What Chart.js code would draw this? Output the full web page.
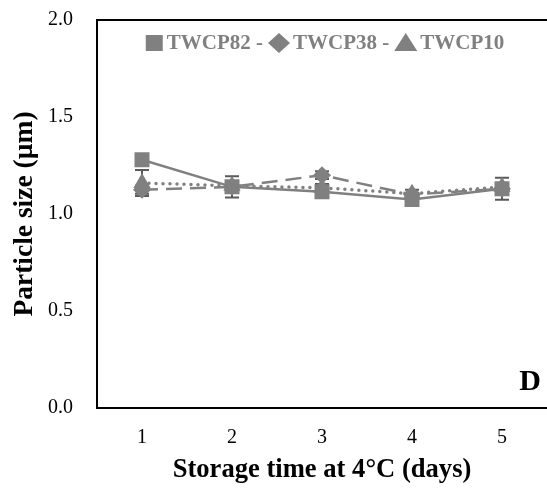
<!DOCTYPE html>
<html>
<head>
<meta charset="utf-8">
<script src="https://cdn.jsdelivr.net/npm/chart.js@4/dist/chart.umd.min.js"></script>
<style>
html,body{margin:0;padding:0;background:#fff;}
#wrap{width:547px;height:488px;position:relative;}
</style>
</head>
<body>
<div id="wrap"><canvas id="c" width="547" height="488"></canvas></div>
<script>
const days = ['1', '2', '3', '4', '5'];
const twcp82 = [1.28, 1.14, 1.115, 1.075, 1.13];
const twcp38 = [1.125, 1.14, 1.20, 1.10, 1.13];
const twcp10 = [1.16, 1.145, 1.135, 1.105, 1.14];
const err82 = [0.02, 0.055, 0.02, 0.02, 0.057];
const err38 = [0.02, 0.02, 0.02, 0.01, 0.02];
const err10 = [0.067, 0.02, 0.02, 0.02, 0.02];
const yTicks = [0, 0.5, 1.0, 1.5, 2.0];
const legendLabels = ['TWCP82 -', 'TWCP38 -', 'TWCP10'];
const panelLetter = 'D';

const GREY = '#808080';
const SERIF = '"Liberation Serif", "Times New Roman", serif';

const errorBars = {
  id: 'errorBars',
  beforeDatasetsDraw(chart) {
    const ctx = chart.ctx;
    const y = chart.scales.y;
    ctx.save();
    ctx.strokeStyle = '#5a5a5a';
    ctx.lineWidth = 2;
    chart.data.datasets.forEach((ds, i) => {
      const meta = chart.getDatasetMeta(i);
      meta.data.forEach((pt, j) => {
        const e = ds.errors[j];
        const v = ds.data[j];
        const yt = y.getPixelForValue(v + e);
        const yb = y.getPixelForValue(v - e);
        const x = pt.x;
        ctx.beginPath();
        ctx.moveTo(x, yt); ctx.lineTo(x, yb);
        ctx.moveTo(x - 7, yt); ctx.lineTo(x + 7, yt);
        ctx.moveTo(x - 7, yb); ctx.lineTo(x + 7, yb);
        ctx.stroke();
      });
    });
    ctx.restore();
  }
};

const frameAndLegend = {
  id: 'frameAndLegend',
  afterDraw(chart) {
    const ctx = chart.ctx;
    const a = chart.chartArea;
    ctx.save();
    ctx.strokeStyle = '#000';
    ctx.lineWidth = 2;
    ctx.beginPath();
    ctx.moveTo(a.left - 1, a.top);
    ctx.lineTo(chart.width, a.top);
    ctx.stroke();

    ctx.font = 'bold 21px ' + SERIF;
    ctx.fillStyle = GREY;
    ctx.textBaseline = 'middle';
    ctx.textAlign = 'left';
    const markerW = [18, 22, 23];
    const gap = 3;
    let total = 0;
    legendLabels.forEach((t, i) => {
      total += markerW[i] + gap + ctx.measureText(t).width + (i < legendLabels.length - 1 ? 5 : 0);
    });
    let x = (a.left + a.right) / 2 - total / 2 + 3;
    const cy = a.top + 23;
    legendLabels.forEach((t, i) => {
      const w = markerW[i];
      ctx.beginPath();
      if (i === 0) {
        ctx.rect(x, cy - 8, 17, 16);
      } else if (i === 1) {
        ctx.moveTo(x + w / 2, cy - 10);
        ctx.lineTo(x + w, cy);
        ctx.lineTo(x + w / 2, cy + 10);
        ctx.lineTo(x, cy);
        ctx.closePath();
      } else {
        ctx.moveTo(x + w / 2, cy - 10);
        ctx.lineTo(x + w, cy + 8);
        ctx.lineTo(x, cy + 8);
        ctx.closePath();
      }
      ctx.fill();
      x += w + gap;
      ctx.fillText(t, x, cy + 1);
      x += ctx.measureText(t).width + 5;
    });

    ctx.fillStyle = '#000';
    ctx.font = 'bold 30px ' + SERIF;
    ctx.textAlign = 'right';
    ctx.fillText(panelLetter, a.right - 6, a.bottom - 26);
    ctx.restore();
  }
};

new Chart(document.getElementById('c'), {
  type: 'line',
  data: {
    labels: days,
    datasets: [
      {
        label: 'TWCP82', data: twcp82, errors: err82,
        borderColor: GREY, backgroundColor: GREY, borderWidth: 2.5,
        pointStyle: 'rect', pointRadius: 10.6, pointBorderWidth: 0,
        pointBackgroundColor: GREY, tension: 0
      },
      {
        label: 'TWCP38', data: twcp38, errors: err38,
        borderColor: GREY, backgroundColor: GREY, borderWidth: 2.5,
        borderDash: [16, 8],
        pointStyle: 'rectRot', pointRadius: 9, pointBorderWidth: 0,
        pointBackgroundColor: GREY, tension: 0
      },
      {
        label: 'TWCP10', data: twcp10, errors: err10,
        borderColor: GREY, backgroundColor: GREY, borderWidth: 3.5,
        borderDash: [0, 7], borderCapStyle: 'round',
        pointStyle: 'triangle', pointRadius: 10, pointBorderWidth: 0,
        pointBackgroundColor: GREY, tension: 0
      }
    ]
  },
  options: {
    responsive: false,
    animation: false,
    devicePixelRatio: 1,
    layout: { autoPadding: false, padding: { top: 20, right: 0, left: 0, bottom: 0 } },
    plugins: {
      legend: { display: false },
      title: { display: false },
      tooltip: { enabled: false }
    },
    scales: {
      x: {
        type: 'category',
        offset: true,
        grid: { display: false, drawTicks: false },
        border: { display: true, color: '#000', width: 2 },
        ticks: { color: '#000', font: { family: SERIF, size: 20 }, padding: 18 },
        title: {
          display: true, text: 'Storage time at 4°C (days)', color: '#000',
          font: { family: SERIF, size: 26.6, weight: 'bold' }, padding: { top: 0, bottom: 2 }
        },
        afterFit(s) { s.height = 80; s.paddingLeft = 0; s.paddingRight = 0; }
      },
      y: {
        min: 0, max: 2,
        afterBuildTicks(s) { s.ticks = yTicks.map(v => ({ value: v })); },
        grid: { display: false, drawTicks: false },
        border: { display: true, color: '#000', width: 2 },
        ticks: {
          color: '#000', font: { family: SERIF, size: 20 }, padding: 24,
          callback: v => Number(v).toFixed(1)
        },
        title: {
          display: true, text: 'Particle size (µm)', color: '#000',
          font: { family: SERIF, size: 27.5, weight: 'bold' }, padding: { top: 8, bottom: 0 }
        },
        afterFit(s) { s.width = 97; s.paddingTop = 0; s.paddingBottom = 0; }
      }
    }
  },
  plugins: [errorBars, frameAndLegend]
});
</script>
</body>
</html>
